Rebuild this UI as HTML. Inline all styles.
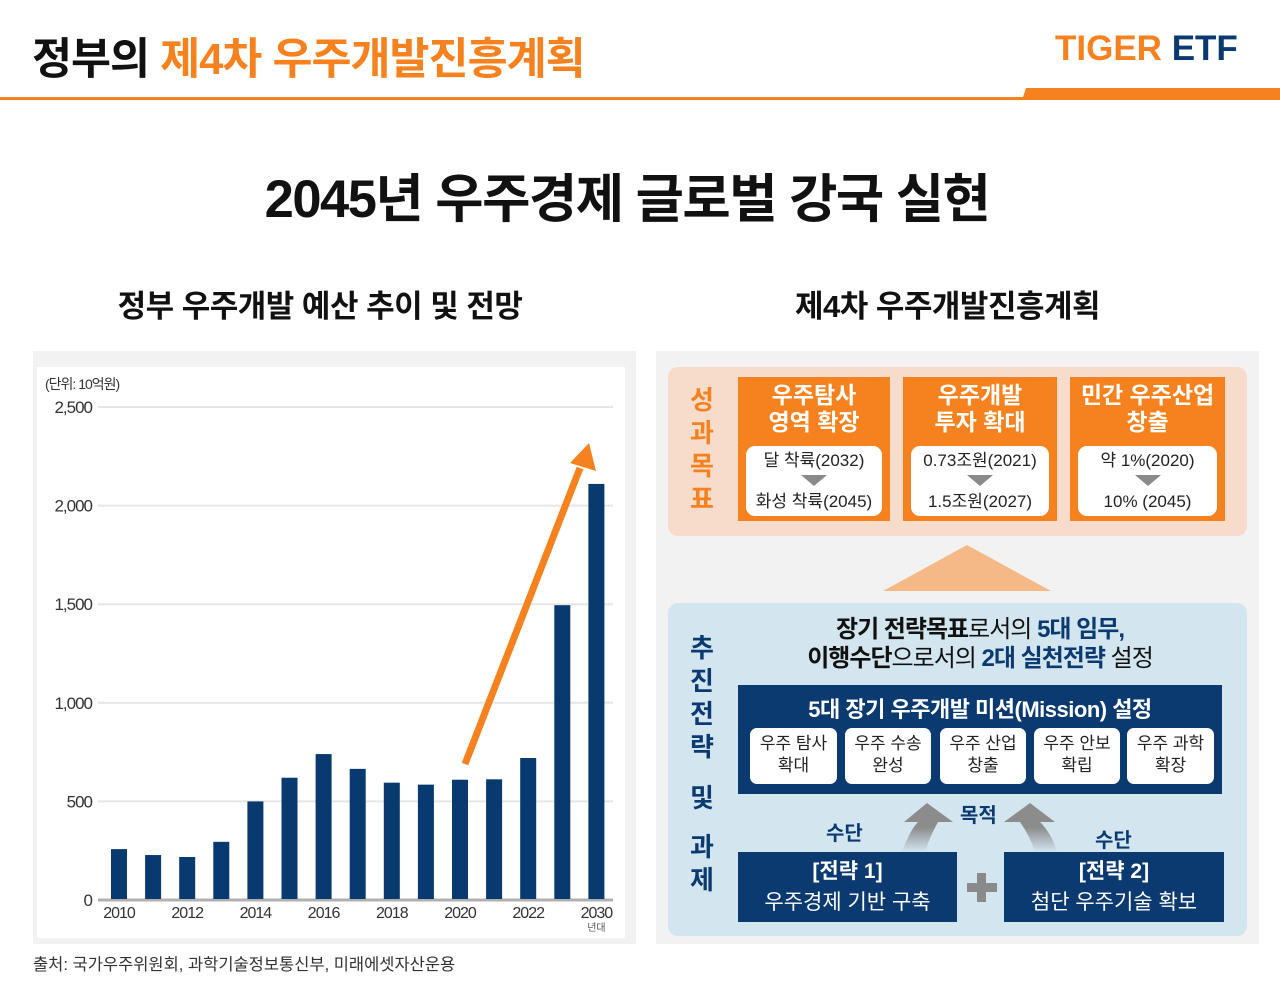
<!DOCTYPE html>
<html><head><meta charset="utf-8">
<style>
*{margin:0;padding:0;box-sizing:border-box}
body{width:1280px;height:988px;background:#fff;position:relative;overflow:hidden;font-family:"Liberation Sans","Noto Sans CJK KR",sans-serif;color:#111}
.a{position:absolute}
.c{text-align:center}
.ob{background:#f5821f;color:#fff;font-weight:bold;font-size:23px;line-height:27px;text-align:center;padding-top:5px}
.wb{position:absolute;left:8px;right:8px;bottom:5px;height:70px;background:#fff;border-radius:9px;color:#222;font-weight:normal;font-size:17px;line-height:20px}
.tri{width:0;height:0;border-left:13px solid transparent;border-right:13px solid transparent;border-top:11px solid #8a8a8a;margin:4px auto 6px}
.mb{position:absolute;top:43px;height:56px;background:#fff;border-radius:7px;color:#222;font-size:17px;line-height:22px;text-align:center;padding-top:5px}
.sb{background:#0b3a70;color:#fff;font-size:21px;line-height:31px;text-align:center;padding-top:4px}
.vt{font-weight:bold;font-size:26px;line-height:33px;text-align:center;width:40px}
</style></head><body>
<div class="a" style="left:32px;top:24px;font-size:43.5px;font-weight:bold;letter-spacing:-1px">정부의 <span style="color:#f5821f">제4차 우주개발진흥계획</span></div>
<div class="a" style="left:1055px;top:29px;font-size:35px;font-weight:bold;letter-spacing:0px"><span style="color:#f5821f">TIGER</span> <span style="color:#0b3a70">ETF</span></div>
<div class="a" style="left:0;top:97px;width:1280px;height:3px;background:#f5821f"></div>
<div class="a" style="left:1022px;top:88px;width:258px;height:12px;background:#f5821f;clip-path:polygon(4px 0,100% 0,100% 100%,0 100%)"></div>
<div class="a c" style="left:0;width:1254px;top:157px;font-size:52.5px;font-weight:bold;letter-spacing:-1.5px">2045년 우주경제 글로벌 강국 실현</div>
<div class="a c" style="left:40px;width:560px;top:281px;font-size:31px;font-weight:bold;letter-spacing:-0.5px">정부 우주개발 예산 추이 및 전망</div>
<div class="a c" style="left:670px;width:555px;top:281px;font-size:31px;font-weight:bold;letter-spacing:-0.5px">제4차 우주개발진흥계획</div>

<div class="a" style="left:33px;top:351px;width:603px;height:593px;background:#f2f2f2"></div>
<div class="a" style="left:37px;top:367px;width:588px;height:571px;background:#fff"></div>
<svg class="a" id="chart" style="left:0;top:0" width="640" height="950" font-family="Liberation Sans, Noto Sans CJK KR, sans-serif"></svg>
<div class="a" style="left:33px;top:951px;font-size:16.5px;color:#333">출처: 국가우주위원회, 과학기술정보통신부, 미래에셋자산운용</div>

<div class="a" style="left:656px;top:351px;width:603px;height:593px;background:#f2f2f2"></div>
<div class="a" style="left:668px;top:367px;width:579px;height:169px;background:#f7dccb;border-radius:10px"></div>
<div class="a vt" style="left:682px;top:384px;color:#f5821f">성<br>과<br>목<br>표</div>
<div class="a ob" style="left:738px;top:377px;width:152px;height:144px">우주탐사<br>영역 확장<div class="wb"><div style="padding-top:5px">달 착륙(2032)</div><div class="tri"></div><div>화성 착륙(2045)</div></div></div>
<div class="a ob" style="left:903px;top:377px;width:154px;height:144px">우주개발<br>투자 확대<div class="wb"><div style="padding-top:5px">0.73조원(2021)</div><div class="tri"></div><div>1.5조원(2027)</div></div></div>
<div class="a ob" style="left:1070px;top:377px;width:155px;height:144px">민간 우주산업<br>창출<div class="wb"><div style="padding-top:5px">약 1%(2020)</div><div class="tri"></div><div>10% (2045)</div></div></div>
<div class="a" style="left:883px;top:545px;width:0;height:0;border-left:84px solid transparent;border-right:84px solid transparent;border-bottom:46px solid #f5b987"></div>

<div class="a" style="left:668px;top:603px;width:579px;height:333px;background:#d3e6f0;border-radius:10px"></div>
<div class="a vt" style="left:682px;top:632px;color:#0b3a70;line-height:33px">추<br>진<br>전<br>략<br><span style="display:block;height:18px"></span>및<br><span style="display:block;height:16px"></span>과<br>제</div>
<div class="a c" style="left:740px;width:480px;top:615px;font-size:24px;line-height:29px;letter-spacing:-1px"><b>장기 전략목표</b>로서의 <b style="color:#0b3a70">5대 임무,</b><br><b>이행수단</b>으로서의 <b style="color:#0b3a70">2대 실천전략</b> 설정</div>
<div class="a" style="left:738px;top:685px;width:484px;height:109px;background:#0b3a70">
<div class="c" style="color:#fff;font-weight:bold;font-size:22px;padding-top:7px;letter-spacing:-0.5px">5대 장기 우주개발 미션(Mission) 설정</div>
<div class="mb" style="left:12px;width:87px">우주 탐사<br>확대</div>
<div class="mb" style="left:107px;width:86px">우주 수송<br>완성</div>
<div class="mb" style="left:202px;width:86px">우주 산업<br>창출</div>
<div class="mb" style="left:296px;width:86px">우주 안보<br>확립</div>
<div class="mb" style="left:389px;width:87px">우주 과학<br>확장</div>
</div>
<svg class="a" style="left:880px;top:800px" width="200" height="55">
<defs><linearGradient id="g" x1="0" y1="1" x2="0" y2="0"><stop offset="0" stop-color="#d3e6f0"/><stop offset="0.5" stop-color="#8c8c8c"/></linearGradient></defs>
<path d="M22 52 Q30 30 38 22 L24 22 L47 3 L73 22 L58 22 Q50 36 45 52 Z" fill="url(#g)"/>
<path d="M177 52 Q172 34 160 22 L175 22 L150 3 L124 22 L140 22 Q150 36 155 52 Z" fill="url(#g)"/>
</svg>
<div class="a" style="left:960px;top:799px;font-size:20px;font-weight:bold;color:#0b3a70">목적</div>
<div class="a" style="left:826px;top:817px;font-size:20px;font-weight:bold;color:#0b3a70">수단</div>
<div class="a" style="left:1095px;top:824px;font-size:20px;font-weight:bold;color:#0b3a70">수단</div>
<div class="a sb" style="left:738px;top:852px;width:219px;height:70px"><b>[전략 1]</b><br>우주경제 기반 구축</div>
<div class="a sb" style="left:1004px;top:852px;width:220px;height:70px"><b>[전략 2]</b><br>첨단 우주기술 확보</div>
<div class="a" style="left:967px;top:883px;width:30px;height:9px;background:#8a8a8a"></div>
<div class="a" style="left:977px;top:873px;width:9px;height:29px;background:#8a8a8a"></div>

<script>
const categories=["2010","2011","2012","2013","2014","2015","2016","2017","2018","2019","2020","2021","2022","2027","2030"];
const tickLabels=["2010","","2012","","2014","","2016","","2018","","2020","","2022","","2030"];
const budget=[258,228,218,295,500,620,740,665,595,585,610,612,720,1495,2110];
const yTicks=[0,500,1000,1500,2000,2500];
const yTickText=["0","500","1,000","1,500","2,000","2,500"];
const svg=document.getElementById('chart');
const NS='http://www.w3.org/2000/svg';
const y0=900,yTop=407,yMax=2500;
const yS=v=>y0-(v/yMax)*(y0-yTop);
const xS=i=>119+i*34.1;
function mk(t,a){const e=document.createElementNS(NS,t);for(const k in a)e.setAttribute(k,a[k]);svg.appendChild(e);return e;}
yTicks.forEach((v,i)=>{
 const l=mk('line',{x1:98,x2:613,y1:yS(v),y2:yS(v),stroke:v===0?'#b0b0b0':'#e6e6e6','stroke-width':v===0?3:2});
 
 
 const t=mk('text',{x:92,y:yS(v)+6,'text-anchor':'end','font-size':17,fill:'#333','letter-spacing':'-1'});
 t.textContent=yTickText[i];
 
 
});
budget.forEach((v,i)=>{
 const r=mk('rect',{x:xS(i)-8,y:yS(v),width:16,height:y0-yS(v)-1,fill:'#083a70'});
 
 
 if(tickLabels[i]){const t=mk('text',{x:xS(i),y:918,'text-anchor':'middle','font-size':16,fill:'#333','letter-spacing':'-1'});
 t.textContent=tickLabels[i];
 
 }
});
const d=mk('text',{x:xS(14),y:931,'text-anchor':'middle','font-size':10,fill:'#555'});d.textContent='년대';


const u=mk('text',{x:45,y:389,'font-size':14,fill:'#333','letter-spacing':'-1'});u.textContent='(단위: 10억원)';


const ar=mk('line',{x1:465,y1:764,x2:580,y2:468,stroke:'#f5821f','stroke-width':7});


const ah=mk('polygon',{points:'589,443 570,463 596,471',fill:'#f5821f'});


</script>
</body></html>
